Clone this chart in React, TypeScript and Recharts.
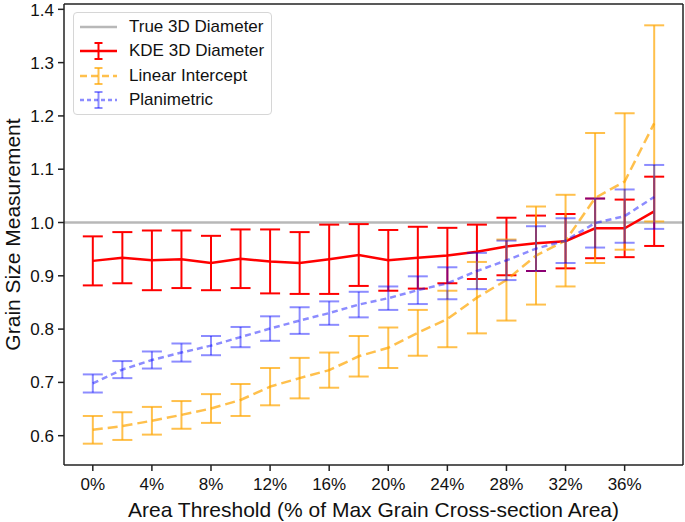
import { ComposedChart, Line, XAxis, YAxis, ErrorBar, ReferenceLine } from 'recharts';

// area threshold (% of max grain cross-section area)
const thresholds = [0, 2, 4, 6, 8, 10, 12, 14, 16, 18, 20, 22, 24, 26, 28, 30, 32, 34, 36, 38];

const kdeMean = [0.928, 0.934, 0.929, 0.931, 0.924, 0.932, 0.927, 0.924, 0.931, 0.939, 0.929, 0.934, 0.938, 0.945, 0.955, 0.961, 0.965, 0.989, 0.989, 1.021];
const kdeErr = [0.046, 0.048, 0.056, 0.054, 0.051, 0.055, 0.060, 0.058, 0.065, 0.058, 0.057, 0.058, 0.052, 0.051, 0.054, 0.052, 0.051, 0.056, 0.054, 0.065];

const linMean = [0.611, 0.618, 0.628, 0.639, 0.651, 0.667, 0.692, 0.708, 0.723, 0.749, 0.765, 0.793, 0.819, 0.859, 0.892, 0.938, 0.966, 1.046, 1.077, 1.186];
const linErr = [0.026, 0.026, 0.026, 0.026, 0.027, 0.030, 0.035, 0.038, 0.033, 0.038, 0.038, 0.043, 0.053, 0.067, 0.076, 0.092, 0.086, 0.122, 0.128, 0.184];

const planMean = [0.698, 0.724, 0.742, 0.756, 0.769, 0.785, 0.801, 0.816, 0.830, 0.846, 0.858, 0.873, 0.886, 0.909, 0.929, 0.951, 0.966, 0.999, 1.012, 1.048];
const planErr = [0.017, 0.016, 0.016, 0.017, 0.018, 0.019, 0.023, 0.025, 0.022, 0.024, 0.022, 0.026, 0.030, 0.034, 0.037, 0.042, 0.042, 0.046, 0.050, 0.060];

const xTicks = [0, 4, 8, 12, 16, 20, 24, 28, 32, 36];
const yTicks = [0.6, 0.7, 0.8, 0.9, 1.0, 1.1, 1.2, 1.3, 1.4];

const data = thresholds.map((t, i) => ({
  t,
  kde: kdeMean[i],
  kdeErr: kdeErr[i],
  lin: linMean[i],
  linErr: linErr[i],
  plan: planMean[i],
  planErr: planErr[i],
}));

const FONT = '"Liberation Sans", Arial, Helvetica, sans-serif';
const AXIS = '#222';
const RED = '#ff0000';
const ORANGE = 'rgba(255,165,0,0.7)';
const BLUE = 'rgba(0,0,255,0.45)';
const GRAY = '#b8b8b8';
const X_DOMAIN = [-1.95, 39.95];
const Y_DOMAIN = [0.545, 1.41];

const legendItems = [
  { label: 'True 3D Diameter', color: GRAY, dash: undefined as string | undefined, bar: false },
  { label: 'KDE 3D Diameter', color: RED, dash: undefined, bar: true },
  { label: 'Linear Intercept', color: ORANGE, dash: '7 4', bar: true },
  { label: 'Planimetric', color: BLUE, dash: '4 3', bar: true },
];

function ChartLegend() {
  return (
    <div
      style={{
        position: 'absolute',
        left: 73,
        top: 12,
        width: 199,
        height: 103,
        boxSizing: 'border-box',
        border: '1px solid #d6d6d6',
        borderRadius: 4,
        background: 'rgba(255,255,255,0.8)',
        padding: '2px 0 0 3px',
        fontFamily: FONT,
        fontSize: 17,
        color: '#111',
      }}
    >
      {legendItems.map((it) => (
        <div key={it.label} style={{ display: 'flex', alignItems: 'center', height: 24.3 }}>
          <svg width={44} height={20} style={{ marginRight: 8 }}>
            <line x1={3} y1={10} x2={40} y2={10} stroke={it.color} strokeWidth={2.5} strokeDasharray={it.dash} />
            {it.bar && (
              <g stroke={it.color} strokeWidth={2}>
                <line x1={21.5} y1={2} x2={21.5} y2={18} />
                <line x1={17.5} y1={2} x2={25.5} y2={2} />
                <line x1={17.5} y1={18} x2={25.5} y2={18} />
              </g>
            )}
          </svg>
          <span>{it.label}</span>
        </div>
      ))}
    </div>
  );
}

export default function App() {
  return (
    <div style={{ position: 'absolute', left: 0, top: 0, width: 685, height: 522, background: '#fff' }}>
      <ComposedChart
        width={685}
        height={522}
        data={data}
        margin={{ top: 3, right: 1, left: 0, bottom: 0 }}
      >
        <XAxis
          dataKey="t"
          type="number"
          domain={X_DOMAIN}
          ticks={xTicks}
          allowDataOverflow
          tickFormatter={(v: number) => `${v}%`}
          stroke={AXIS}
          strokeWidth={1.5}
          tickSize={6}
          tickMargin={7}
          height={57}
          tick={{ fill: '#111', fontSize: 17, fontFamily: FONT }}
          label={{
            value: 'Area Threshold (% of Max Grain Cross-section Area)',
            position: 'insideBottom',
            offset: 5,
            style: { fill: '#111', fontSize: 21, fontFamily: FONT },
          }}
        />
        <XAxis xAxisId="top" orientation="top" type="number" domain={X_DOMAIN} allowDataOverflow tick={false} tickLine={false} height={1} stroke={AXIS} strokeWidth={1.5} />
        <YAxis
          type="number"
          domain={Y_DOMAIN}
          ticks={yTicks}
          allowDataOverflow
          tickFormatter={(v: number) => v.toFixed(1)}
          stroke={AXIS}
          strokeWidth={1.5}
          tickSize={6}
          tickMargin={4}
          width={64}
          tick={{ fill: '#111', fontSize: 17, fontFamily: FONT }}
          label={{
            value: 'Grain Size Measurement',
            angle: -90,
            position: 'insideLeft',
            offset: 13,
            style: { fill: '#111', fontSize: 21, fontFamily: FONT, textAnchor: 'middle' },
          }}
        />
        <YAxis yAxisId="right" orientation="right" type="number" domain={Y_DOMAIN} allowDataOverflow tick={false} tickLine={false} width={1} stroke={AXIS} strokeWidth={1.5} />
        <ReferenceLine y={1} stroke={GRAY} strokeWidth={2.5} />
        <Line
          dataKey="kde"
          stroke={RED}
          strokeWidth={2.5}
          dot={false}
          activeDot={false}
          isAnimationActive={false}
        >
          <ErrorBar dataKey="kdeErr" direction="y" width={10} stroke={RED} strokeWidth={2} isAnimationActive={false} />
        </Line>
        <Line
          dataKey="lin"
          stroke={ORANGE}
          strokeWidth={2.5}
          strokeDasharray="10 5"
          dot={false}
          activeDot={false}
          isAnimationActive={false}
        >
          <ErrorBar dataKey="linErr" direction="y" width={10} stroke={ORANGE} strokeWidth={2} isAnimationActive={false} />
        </Line>
        <Line
          dataKey="plan"
          stroke={BLUE}
          strokeWidth={2.5}
          strokeDasharray="6 4"
          dot={false}
          activeDot={false}
          isAnimationActive={false}
        >
          <ErrorBar dataKey="planErr" direction="y" width={10} stroke={BLUE} strokeWidth={2} isAnimationActive={false} />
        </Line>
      </ComposedChart>
      <ChartLegend />
    </div>
  );
}
